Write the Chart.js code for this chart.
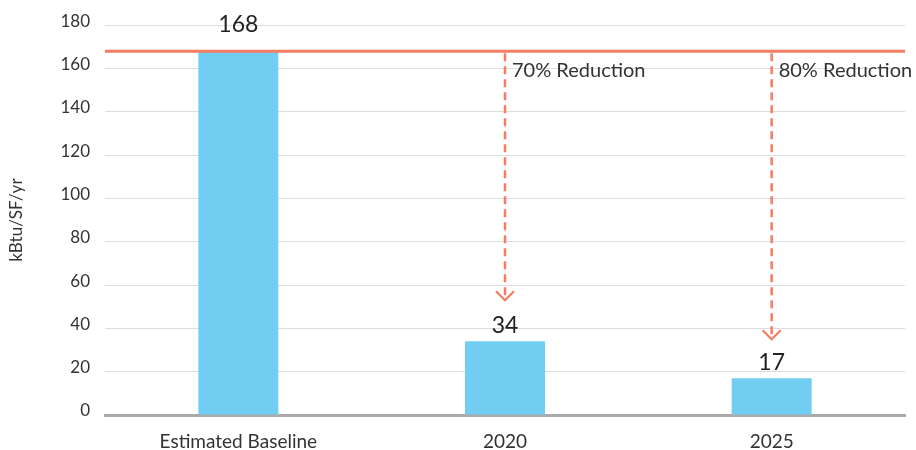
<!DOCTYPE html>
<html>
<head>
<meta charset="utf-8">
<script src="https://cdn.jsdelivr.net/npm/chart.js@4"></script>
<style>
  html, body { margin: 0; padding: 0; background: #fff; }
  #wrap { width: 916px; height: 450px; }
</style>
</head>
<body>
<div id="wrap"><canvas id="c" width="916" height="450"></canvas></div>
<script>
// ---- data ----
const categories = ['Estimated Baseline', '2020', '2025'];
const eui = [168, 34, 17];
const baselineValue = 168;
const reductionLabels = ['', '70% Reduction', '80% Reduction'];
const arrowTargets = [null, 53, 35];
const yTicks = [0, 20, 40, 60, 80, 100, 120, 140, 160, 180];

const FONT = 'Lato, "Open Sans", sans-serif';
const CORAL = '#f47c60';
const BLUE = '#72cdf2';

const overlay = {
  id: 'overlay',
  afterDatasetsDraw(chart) {
    const ctx = chart.ctx;
    const x = chart.scales.x, y = chart.scales.y;
    const area = chart.chartArea;
    const yBase = y.getPixelForValue(baselineValue);
    ctx.save();
    // dashed arrows
    categories.forEach((c, i) => {
      if (arrowTargets[i] == null) return;
      const px = x.getPixelForValue(i);
      const yEnd = y.getPixelForValue(arrowTargets[i]);
      ctx.strokeStyle = CORAL;
      ctx.lineWidth = 2.5;
      ctx.setLineDash([8, 5]);
      ctx.beginPath();
      ctx.moveTo(px, yBase + 2);
      ctx.lineTo(px, yEnd - 1);
      ctx.stroke();
      ctx.setLineDash([]);
      ctx.lineWidth = 2.2;
      ctx.beginPath();
      ctx.moveTo(px - 9, yEnd - 9);
      ctx.lineTo(px, yEnd);
      ctx.lineTo(px + 9, yEnd - 9);
      ctx.stroke();
      // label
      ctx.fillStyle = '#333';
      ctx.font = '20px ' + FONT;
      ctx.textAlign = 'left';
      ctx.textBaseline = 'middle';
      ctx.fillText(reductionLabels[i], px + 7, y.getPixelForValue(160) + 2);
    });
    // baseline line
    ctx.strokeStyle = CORAL;
    ctx.lineWidth = 3;
    ctx.beginPath();
    ctx.moveTo(area.left, yBase);
    ctx.lineTo(area.right, yBase);
    ctx.stroke();
    // value labels
    const meta = chart.getDatasetMeta(0);
    ctx.fillStyle = '#222';
    ctx.font = '23px ' + FONT;
    ctx.textAlign = 'center';
    ctx.textBaseline = 'bottom';
    meta.data.forEach((bar, i) => {
      const off = eui[i] === baselineValue ? 15 : 4;
      ctx.fillText(String(eui[i]), bar.x, bar.y - off);
    });
    ctx.restore();
  }
};

new Chart(document.getElementById('c'), {
  type: 'bar',
  data: {
    labels: categories,
    datasets: [{
      data: eui,
      backgroundColor: BLUE,
      borderWidth: 0,
      categoryPercentage: 1,
      barPercentage: 0.3
    }]
  },
  options: {
    responsive: false,
    animation: false,
    layout: { padding: { top: 14, right: 11, left: 0, bottom: 0 } },
    plugins: { legend: { display: false }, tooltip: { enabled: false } },
    scales: {
      x: {
        grid: { display: false, drawTicks: false },
        border: { display: true, color: '#aaaaaa', width: 3 },
        ticks: { color: '#333', font: { family: FONT, size: 19 }, padding: 15, maxRotation: 0 },
        afterFit(s) { s.height = 35; }
      },
      y: {
        min: 0, max: 180,
        afterBuildTicks(s) { s.ticks = yTicks.map(v => ({ value: v })); },
        grid: { color: '#dddddd', lineWidth: 1, drawTicks: false },
        border: { display: false },
        ticks: { color: '#333', font: { family: FONT, size: 17 }, padding: 15, labelOffset: -4 },
        title: { display: true, text: 'kBtu/SF/yr', color: '#333', font: { family: FONT, size: 17 }, padding: { top: 6, bottom: 0 } },
        afterFit(s) { s.width = 105; }
      }
    }
  },
  plugins: [overlay]
});
</script>
</body>
</html>
